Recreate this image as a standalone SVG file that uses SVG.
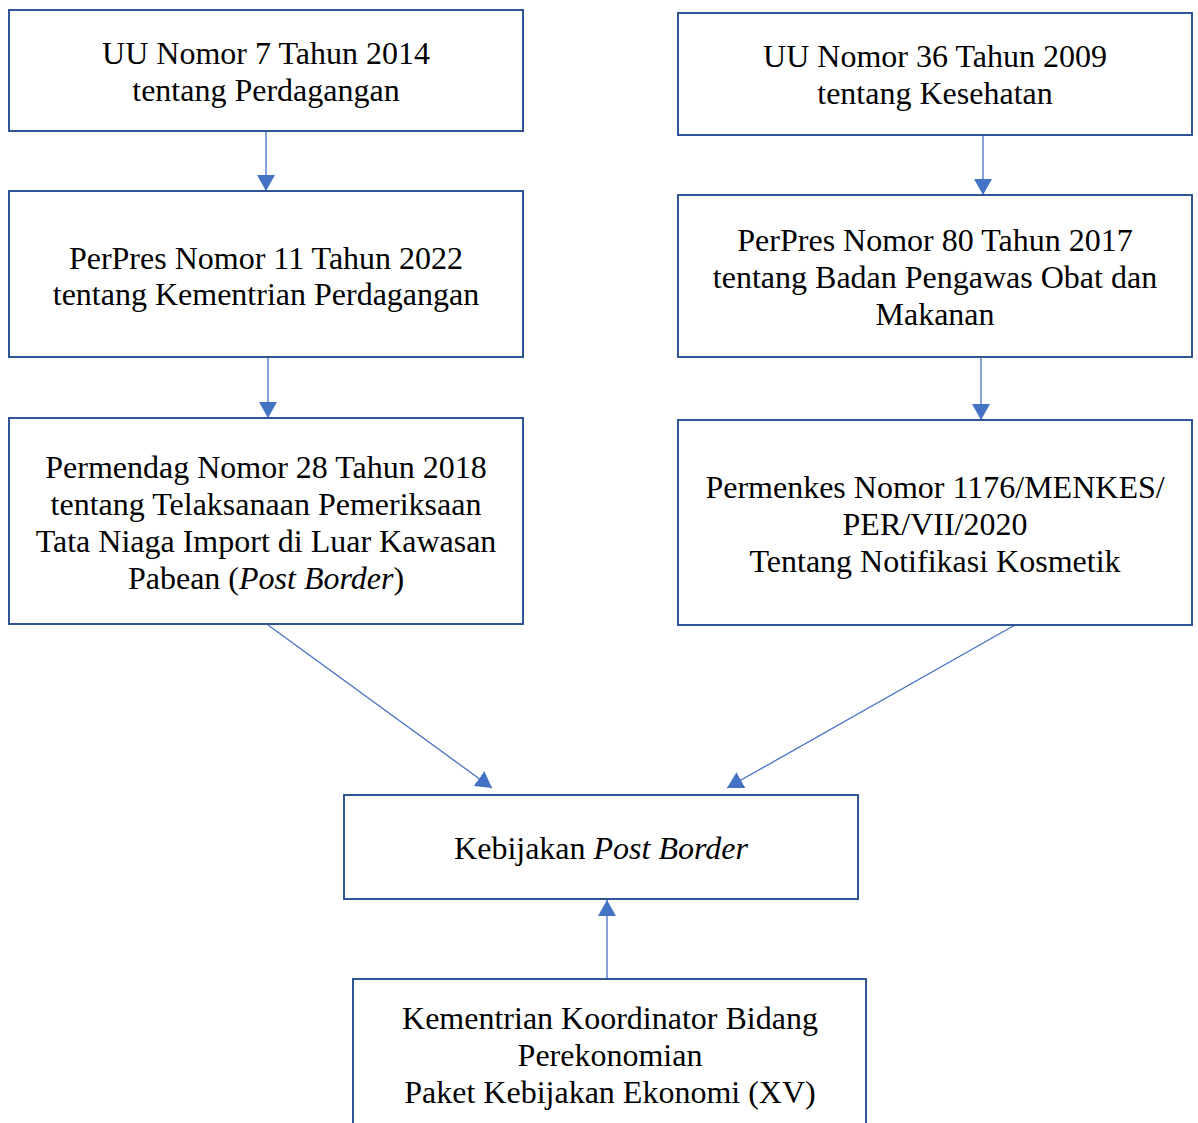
<svg xmlns="http://www.w3.org/2000/svg" width="1198" height="1123" viewBox="0 0 1198 1123">
<style>
.box{fill:#fff;stroke:#2F5597;stroke-width:2}
.t{font-family:"Liberation Serif","Times New Roman",serif;font-size:32px;fill:#000;text-anchor:middle}
.c{stroke:#4472C4;stroke-width:1.3;fill:none;marker-end:url(#ah)}
</style>
<defs>
<marker id="ah" markerUnits="userSpaceOnUse" markerWidth="16" markerHeight="18" viewBox="0 0 16 18" refX="16" refY="9" orient="auto">
<path d="M0,0 L16,9 L0,18 Z" fill="#4472C4"/>
</marker>
</defs>
<rect width="1198" height="1123" fill="#fff"/>
<g id="connectors">
<line class="c" x1="266" y1="132" x2="266" y2="191"/>
<line class="c" x1="268" y1="358" x2="268" y2="418"/>
<line class="c" x1="983" y1="136" x2="983" y2="195"/>
<line class="c" x1="981" y1="358" x2="981" y2="420"/>
<line class="c" x1="268" y1="625" x2="492" y2="788"/>
<line class="c" x1="1015" y1="625" x2="727" y2="788"/>
<line class="c" x1="607" y1="980" x2="607" y2="900"/>
</g>
<g id="n1">
<rect class="box" x="9" y="10" width="514" height="121"/>
<text class="t" x="266" y="64">UU Nomor 7 Tahun 2014</text>
<text class="t" x="266" y="101">tentang Perdagangan</text>
</g>
<g id="n2">
<rect class="box" x="9" y="191" width="514" height="166"/>
<text class="t" x="266" y="269">PerPres Nomor 11 Tahun 2022</text>
<text class="t" x="266" y="305">tentang Kementrian Perdagangan</text>
</g>
<g id="n3">
<rect class="box" x="9" y="418" width="514" height="206"/>
<text class="t" x="266" y="478">Permendag Nomor 28 Tahun 2018</text>
<text class="t" x="266" y="515">tentang Telaksanaan Pemeriksaan</text>
<text class="t" x="266" y="552">Tata Niaga Import di Luar Kawasan</text>
<text class="t" x="266" y="589">Pabean (<tspan font-style="italic">Post Border</tspan>)</text>
</g>
<g id="n4">
<rect class="box" x="678" y="13" width="514" height="122"/>
<text class="t" x="935" y="67">UU Nomor 36 Tahun 2009</text>
<text class="t" x="935" y="104">tentang Kesehatan</text>
</g>
<g id="n5">
<rect class="box" x="678" y="195" width="514" height="162"/>
<text class="t" x="935" y="251">PerPres Nomor 80 Tahun 2017</text>
<text class="t" x="935" y="288">tentang Badan Pengawas Obat dan</text>
<text class="t" x="935" y="325">Makanan</text>
</g>
<g id="n6">
<rect class="box" x="678" y="420" width="514" height="205"/>
<text class="t" x="935" y="498">Permenkes Nomor 1176/MENKES/</text>
<text class="t" x="935" y="535">PER/VII/2020</text>
<text class="t" x="935" y="572">Tentang Notifikasi Kosmetik</text>
</g>
<g id="n7">
<rect class="box" x="344" y="795" width="514" height="104"/>
<text class="t" x="601" y="859">Kebijakan <tspan font-style="italic">Post Border</tspan></text>
</g>
<g id="n8">
<rect class="box" x="353" y="979" width="513" height="160"/>
<text class="t" x="610" y="1029">Kementrian Koordinator Bidang</text>
<text class="t" x="610" y="1066">Perekonomian</text>
<text class="t" x="610" y="1103">Paket Kebijakan Ekonomi (XV)</text>
</g>
</svg>
